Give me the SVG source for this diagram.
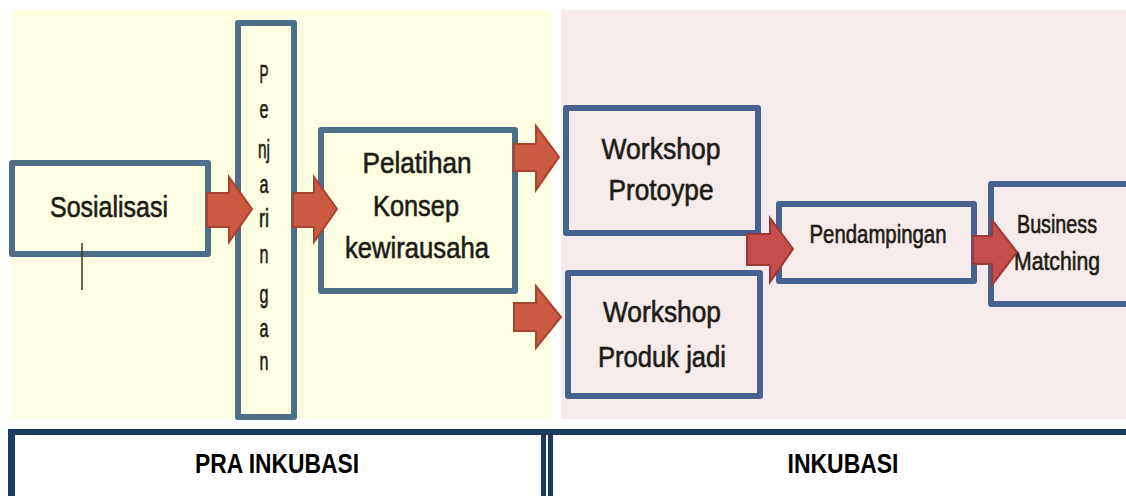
<svg xmlns="http://www.w3.org/2000/svg" width="1126" height="496" viewBox="0 0 1126 496">
<style>
.boxL{fill:none;stroke:#4d6f87;stroke-width:6;stroke-linejoin:round}
.boxR{fill:none;stroke:#48628f;stroke-width:6;stroke-linejoin:round}
.t{font-family:"Liberation Sans",Arial,sans-serif;fill:#1c1c14;stroke:#1c1c14;stroke-width:0.6;text-anchor:middle}
.big{font-size:29px}
.mid{font-size:25px}
.v{font-size:26px}
.hdr{font-family:"Liberation Sans",Arial,sans-serif;font-weight:bold;font-size:27px;fill:#000;text-anchor:middle}
.arL{fill:#cb5a42;stroke:#a8432f;stroke-width:2;stroke-linejoin:miter}
.arR{fill:#c44e4b;stroke:#9e3837;stroke-width:2;stroke-linejoin:miter}
.tb{fill:#1d3a60}
</style>
<rect width="1126" height="496" fill="#ffffff"/>
<rect x="11" y="10" width="540" height="409" fill="#fefee3"/>
<rect x="561" y="10" width="565" height="409" fill="#f6ebeb"/>

<g id="sosialisasi">
<rect class="boxL" x="12" y="163" width="196" height="91"/>
<text class="t big" x="109" y="217" textLength="118" lengthAdjust="spacingAndGlyphs">Sosialisasi</text>
<line x1="82" y1="243" x2="82" y2="290" stroke="#3a3820" stroke-width="1.5"/>
</g>

<g id="penjaringan">
<rect class="boxL" x="238" y="23" width="56" height="394"/>
<text class="t v" x="264" y="83" textLength="9" lengthAdjust="spacingAndGlyphs">P</text>
<text class="t v" x="264" y="118" textLength="9" lengthAdjust="spacingAndGlyphs">e</text>
<text class="t v" x="264" y="158" textLength="12" lengthAdjust="spacingAndGlyphs">nj</text>
<text class="t v" x="264" y="193" textLength="9" lengthAdjust="spacingAndGlyphs">a</text>
<text class="t v" x="264" y="227" textLength="10" lengthAdjust="spacingAndGlyphs">ri</text>
<text class="t v" x="264" y="263" textLength="9" lengthAdjust="spacingAndGlyphs">n</text>
<text class="t v" x="264" y="303" textLength="9" lengthAdjust="spacingAndGlyphs">g</text>
<text class="t v" x="264" y="337" textLength="9" lengthAdjust="spacingAndGlyphs">a</text>
<text class="t v" x="264" y="370" textLength="9" lengthAdjust="spacingAndGlyphs">n</text>
</g>

<g id="pelatihan">
<rect class="boxL" x="321" y="130" width="194" height="161"/>
<text class="t big" x="417" y="173" textLength="109" lengthAdjust="spacingAndGlyphs">Pelatihan</text>
<text class="t big" x="416" y="216" textLength="86" lengthAdjust="spacingAndGlyphs">Konsep</text>
<text class="t big" x="417" y="258" textLength="144" lengthAdjust="spacingAndGlyphs">kewirausaha</text>
</g>

<g id="workshop-protoype">
<rect class="boxR" x="566" y="108" width="192" height="125"/>
<text class="t big" x="661" y="159" textLength="119" lengthAdjust="spacingAndGlyphs">Workshop</text>
<text class="t big" x="661" y="200" textLength="105" lengthAdjust="spacingAndGlyphs">Protoype</text>
</g>

<g id="workshop-produk-jadi">
<rect class="boxR" x="568" y="273" width="192" height="123"/>
<text class="t big" x="662" y="322" textLength="118" lengthAdjust="spacingAndGlyphs">Workshop</text>
<text class="t big" x="662" y="367" textLength="128" lengthAdjust="spacingAndGlyphs">Produk jadi</text>
</g>

<g id="pendampingan">
<rect class="boxR" x="779" y="204" width="195" height="77"/>
<text class="t mid" x="878" y="243" textLength="137" lengthAdjust="spacingAndGlyphs">Pendampingan</text>
</g>

<g id="business-matching">
<rect class="boxR" x="991" y="184" width="142" height="120"/>
<text class="t mid" x="1057" y="233" textLength="80" lengthAdjust="spacingAndGlyphs">Business</text>
<text class="t mid" x="1057" y="270" textLength="86" lengthAdjust="spacingAndGlyphs">Matching</text>
</g>

<g id="connectors">
<polygon class="arL" points="207,193 229,193 229,177 252,209 229,242 229,227 207,227"/>
<polygon class="arL" points="293,193 314,193 314,177 337,209 314,242 314,227 293,227"/>
<polygon class="arL" points="514,144 536,144 536,126 559,157 536,190 536,171 514,171"/>
<polygon class="arL" points="514,303 536,303 536,286 561,317 536,348 536,331 514,331"/>
<polygon class="arR" points="747,234 770,234 770,218 793,249 770,282 770,265 747,265"/>
<polygon class="arR" points="973,236 992,236 992,220 1017,252 992,285 992,264 973,264"/>
</g>

<g id="table">
<rect class="tb" x="8" y="429" width="1118" height="6"/>
<rect class="tb" x="8" y="429" width="7" height="67"/>
<rect class="tb" x="541" y="429" width="5" height="67"/>
<rect class="tb" x="548" y="429" width="5" height="67"/>
<text class="hdr" x="277" y="473" textLength="164" lengthAdjust="spacingAndGlyphs">PRA INKUBASI</text>
<text class="hdr" x="843" y="473" textLength="111" lengthAdjust="spacingAndGlyphs">INKUBASI</text>
</g>
</svg>
